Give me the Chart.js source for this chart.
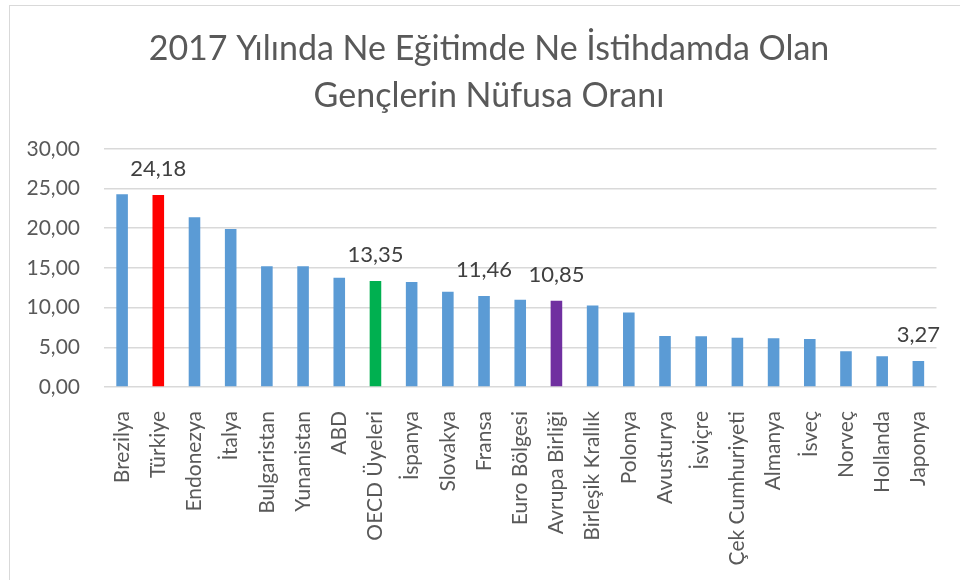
<!DOCTYPE html>
<html lang="tr">
<head>
    <meta charset="UTF-8">
    <title>2017 Yılında Ne Eğitimde Ne İstihdamda Olan Gençlerin Nüfusa Oranı</title>
    <script src="https://cdn.jsdelivr.net/npm/chart.js"></script>
    <style>
        body { margin: 0; background: #fff; }
        .frame {
            position: absolute; left: 9px; top: 5px;
            width: 1000px; height: 620px;
            border: 1px solid #d9d9d9;
        }
        .wrap { position: absolute; left: 0; top: 0; width: 960px; height: 580px; }
    </style>
</head>
<body>
    <div class="frame"></div>
    <div class="wrap"><canvas id="chart" width="960" height="580"></canvas></div>

    <script>
        const countries = ['Brezilya', 'Türkiye', 'Endonezya', 'İtalya', 'Bulgaristan', 'Yunanistan', 'ABD',
            'OECD Üyeleri', 'İspanya', 'Slovakya', 'Fransa', 'Euro Bölgesi', 'Avrupa Birliği',
            'Birleşik Krallık', 'Polonya', 'Avusturya', 'İsviçre', 'Çek Cumhuriyeti', 'Almanya',
            'İsveç', 'Norveç', 'Hollanda', 'Japonya'];
        const rates = [24.29, 24.18, 21.39, 19.91, 15.20, 15.20, 13.77, 13.35, 13.22, 12.00, 11.46, 11.00, 10.85,
            10.27, 9.39, 6.44, 6.40, 6.19, 6.15, 6.06, 4.51, 3.88, 3.27];
        const yTicks = [0, 5, 10, 15, 20, 25, 30];
        const labelled = ['Türkiye', 'OECD Üyeleri', 'Fransa', 'Avrupa Birliği', 'Japonya'];

        const baseColor = '#5B9BD5';
        const highlight = { 'Türkiye': '#FF0000', 'OECD Üyeleri': '#00B050', 'Avrupa Birliği': '#7030A0' };
        const barColors = countries.map(c => highlight[c] || baseColor);

        const fmt = v => v.toFixed(2).replace('.', ',');
        const FONT = 'Lato, "Open Sans", sans-serif';

        // value labels above selected bars
        const valueLabels = {
            id: 'valueLabels',
            afterDatasetsDraw(chart) {
                const ctx = chart.ctx;
                const meta = chart.getDatasetMeta(0);
                ctx.save();
                ctx.font = '22px ' + FONT;
                ctx.fillStyle = '#404040';
                ctx.textAlign = 'center';
                ctx.textBaseline = 'alphabetic';
                meta.data.forEach((bar, i) => {
                    if (!labelled.includes(countries[i])) return;
                    ctx.fillText(fmt(rates[i]), bar.x, bar.y - 19);
                });
                ctx.restore();
            }
        };

        new Chart(document.getElementById('chart'), {
            type: 'bar',
            data: {
                labels: countries,
                datasets: [{
                    data: rates,
                    backgroundColor: barColors,
                    barPercentage: 0.32,
                    categoryPercentage: 1
                }]
            },
            options: {
                responsive: false,
                animation: false,
                // left padding centres the title over the framed area
                layout: { padding: { left: 18, right: 0, top: 0, bottom: 0 } },
                plugins: {
                    legend: { display: false },
                    tooltip: { enabled: false },
                    title: {
                        display: true,
                        text: ['2017 Yılında Ne Eğitimde Ne İstihdamda Olan', 'Gençlerin Nüfusa Oranı'],
                        color: '#595959',
                        font: { family: FONT, size: 34, weight: 'normal', lineHeight: 1.38 },
                        padding: { top: 26, bottom: 29 }
                    }
                },
                scales: {
                    x: {
                        grid: { display: false },
                        border: { display: false },
                        ticks: {
                            color: '#595959',
                            font: { family: FONT, size: 21 },
                            minRotation: 90, maxRotation: 90,
                            autoSkip: false,
                            padding: 16
                        },
                        afterFit: s => { s.height = 193; }
                    },
                    y: {
                        min: 0, max: 30,
                        afterBuildTicks: s => { s.ticks = yTicks.map(v => ({ value: v })); },
                        grid: { color: '#d9d9d9', lineWidth: 1.5, drawTicks: false },
                        border: { display: false },
                        ticks: {
                            color: '#595959',
                            font: { family: FONT, size: 21 },
                            padding: 24,
                            callback: v => fmt(v)
                        },
                        afterFit: s => { s.width = 86; }
                    },
                    // empty right-hand spacer so the plot ends at x = 940
                    spacer: {
                        type: 'linear',
                        position: 'right',
                        grid: { display: false },
                        border: { display: false },
                        ticks: { display: false },
                        afterFit: s => { s.width = 20; }
                    }
                }
            },
            plugins: [valueLabels]
        });
    </script>
</body>
</html>
